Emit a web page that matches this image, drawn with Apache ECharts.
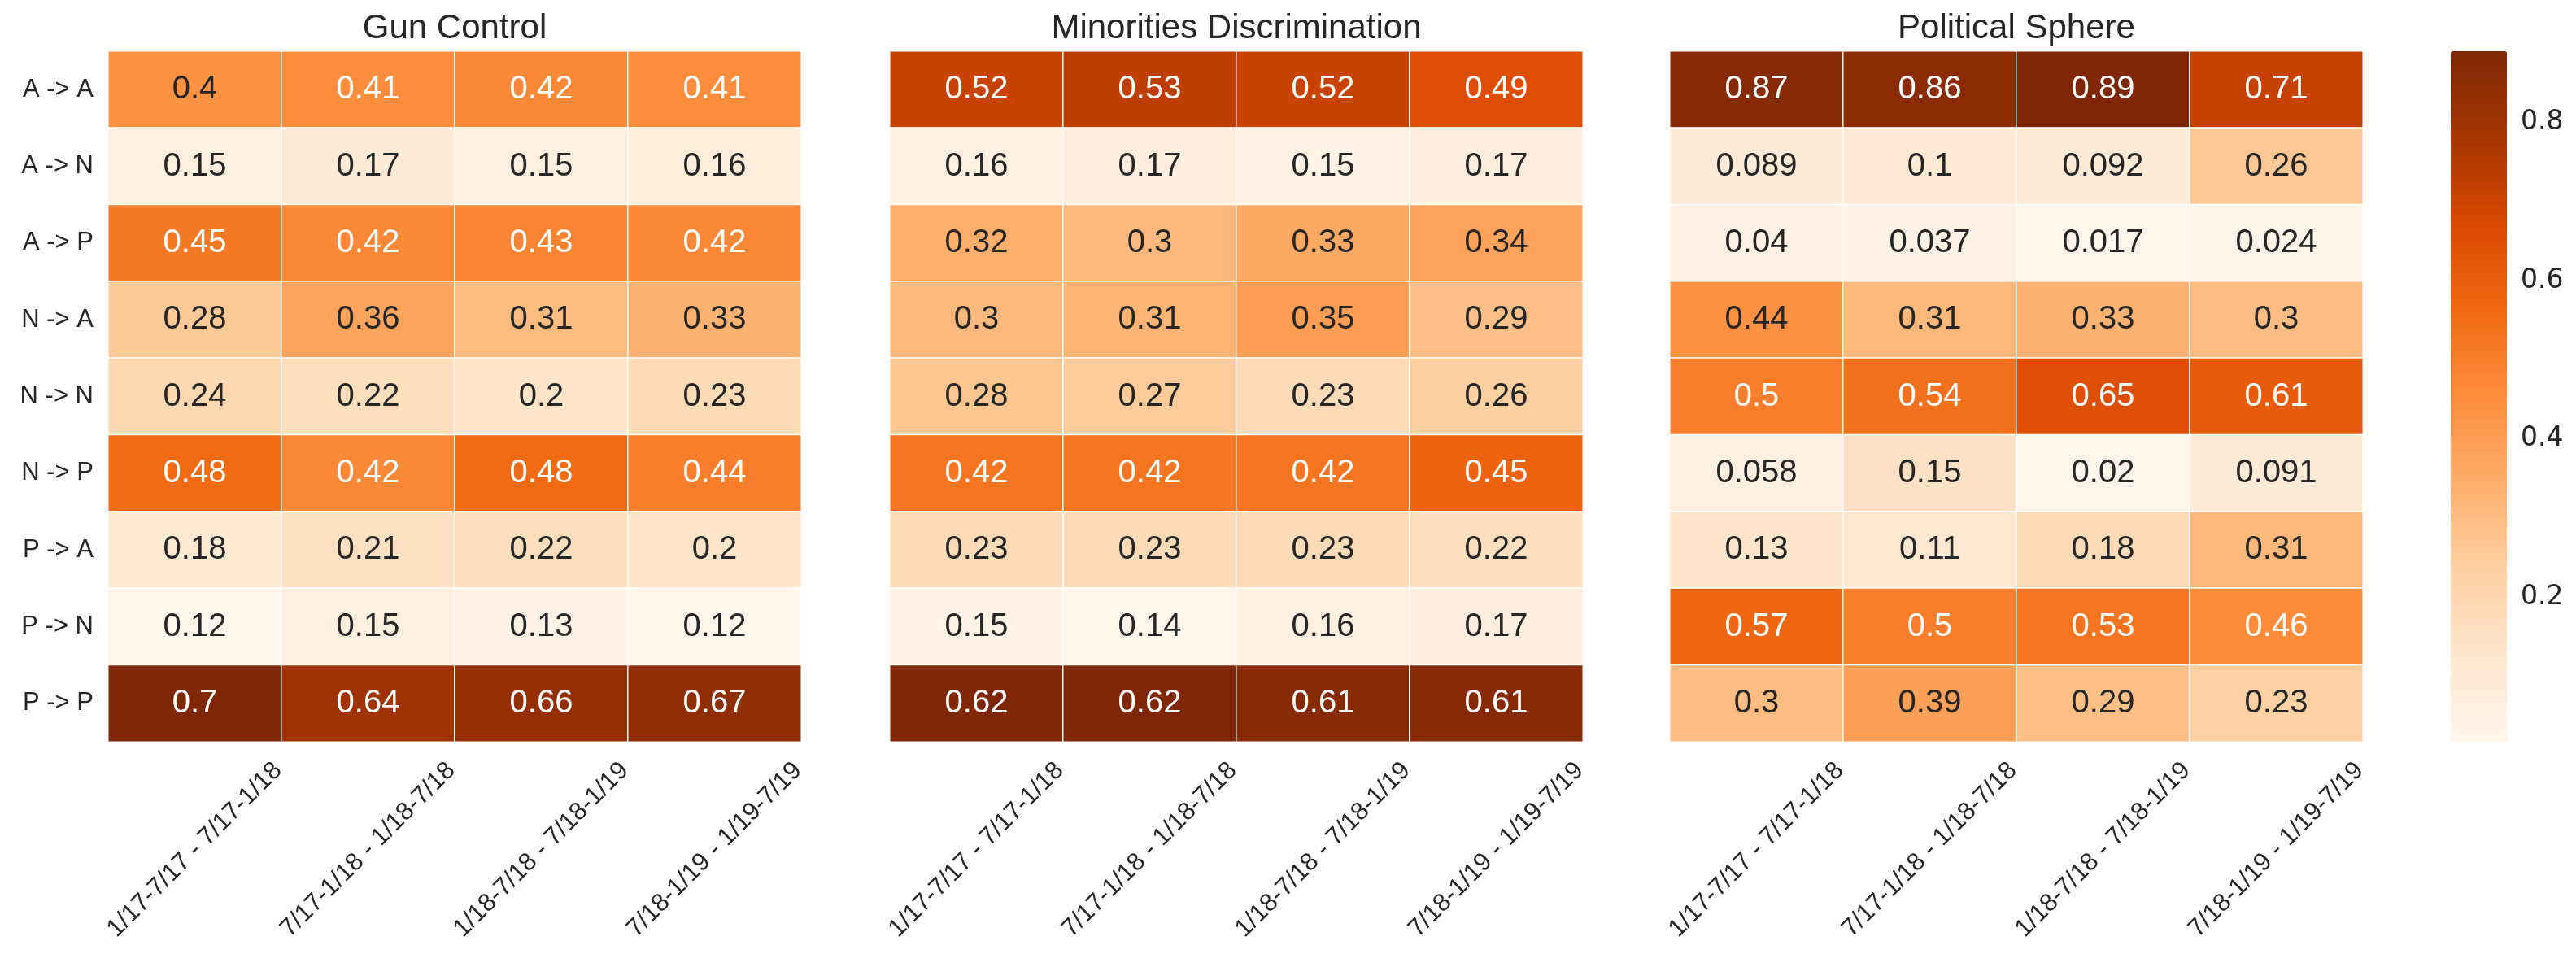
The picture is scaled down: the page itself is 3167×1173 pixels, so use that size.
<!DOCTYPE html>
<html>
<head>
<meta charset="utf-8">
<script src="https://cdn.jsdelivr.net/npm/echarts@6/dist/echarts.min.js"></script>
<style>
  html, body { margin: 0; padding: 0; background: #ffffff; }
  #chart { width: 3167px; height: 1173px; }
</style>
</head>
<body>
<div id="chart"></div>
<script>
// ---- data ----
const periods = ['1/17-7/17 - 7/17-1/18', '7/17-1/18 - 1/18-7/18', '1/18-7/18 - 7/18-1/19', '7/18-1/19 - 1/19-7/19'];
const transitions = ['A -> A', 'A -> N', 'A -> P', 'N -> A', 'N -> N', 'N -> P', 'P -> A', 'P -> N', 'P -> P'];
const panelTitles = ['Gun Control', 'Minorities Discrimination', 'Political Sphere'];

// rows = transitions, columns = periods
const gunControl = [
  [0.4, 0.41, 0.42, 0.41],
  [0.15, 0.17, 0.15, 0.16],
  [0.45, 0.42, 0.43, 0.42],
  [0.28, 0.36, 0.31, 0.33],
  [0.24, 0.22, 0.2, 0.23],
  [0.48, 0.42, 0.48, 0.44],
  [0.18, 0.21, 0.22, 0.2],
  [0.12, 0.15, 0.13, 0.12],
  [0.7, 0.64, 0.66, 0.67]
];
const minoritiesDiscrimination = [
  [0.52, 0.53, 0.52, 0.49],
  [0.16, 0.17, 0.15, 0.17],
  [0.32, 0.3, 0.33, 0.34],
  [0.3, 0.31, 0.35, 0.29],
  [0.28, 0.27, 0.23, 0.26],
  [0.42, 0.42, 0.42, 0.45],
  [0.23, 0.23, 0.23, 0.22],
  [0.15, 0.14, 0.16, 0.17],
  [0.62, 0.62, 0.61, 0.61]
];
const politicalSphere = [
  [0.87, 0.86, 0.89, 0.71],
  [0.089, 0.1, 0.092, 0.26],
  [0.04, 0.037, 0.017, 0.024],
  [0.44, 0.31, 0.33, 0.3],
  [0.5, 0.54, 0.65, 0.61],
  [0.058, 0.15, 0.02, 0.091],
  [0.13, 0.11, 0.18, 0.31],
  [0.57, 0.5, 0.53, 0.46],
  [0.3, 0.39, 0.29, 0.23]
];
const colorbarTicks = [0.2, 0.4, 0.6, 0.8];

// ---- styling ----
const orangesStops = ['#fff5eb', '#fee6ce', '#fdd0a2', '#fdae6b', '#fd8d3c', '#f16913', '#d94801', '#a63603', '#7f2704'];
const TEXT = '#262626';
const FONT = '"Liberation Sans", Arial, sans-serif';
const panels = [gunControl, minoritiesDiscrimination, politicalSphere];
const gridLefts = [133, 1094, 2053];
const GRID_TOP = 63, GRID_W = 852, GRID_H = 849;

const grids = [], xAxes = [], yAxes = [], series = [], visualMaps = [], titles = [];

panels.forEach((mat, p) => {
  const flat = mat.flat();
  const vmin = Math.min(...flat), vmax = Math.max(...flat);
  grids.push({ left: gridLefts[p], top: GRID_TOP, width: GRID_W, height: GRID_H });
  xAxes.push({
    type: 'category', gridIndex: p, data: periods, position: 'bottom',
    axisLine: { show: false }, axisTick: { show: false }, splitLine: { show: false },
    axisLabel: {
      rotate: 45, align: 'center', verticalAlign: 'middle', margin: 133,
      fontSize: 31, color: TEXT, fontFamily: FONT, interval: 0
    }
  });
  yAxes.push({
    type: 'category', gridIndex: p, data: transitions, inverse: true,
    axisLine: { show: false }, axisTick: { show: false }, splitLine: { show: false },
    axisLabel: { show: p === 0, fontSize: 31, color: TEXT, fontFamily: FONT, margin: 18 }
  });
  const data = [];
  mat.forEach((row, r) => {
    row.forEach((v, c) => {
      const t = (v - vmin) / (vmax - vmin);
      data.push({
        value: [c, r, v],
        label: { color: t < 0.49 ? TEXT : '#ffffff' }
      });
    });
  });
  series.push({
    type: 'heatmap', xAxisIndex: p, yAxisIndex: p, data: data,
    itemStyle: { borderColor: '#ffffff', borderWidth: 1.5 },
    label: {
      show: true, fontSize: 40, fontFamily: FONT,
      formatter: (prm) => String(prm.value[2])
    },
    emphasis: { disabled: true }
  });
  const isBar = p === 2;
  visualMaps.push({
    type: 'continuous', seriesIndex: p, dimension: 2,
    min: vmin, max: vmax, calculable: false, hoverLink: false,
    show: isBar, orient: 'vertical', left: 3013, top: GRID_TOP,
    itemWidth: 69, itemHeight: GRID_H, padding: 0, text: null, showLabel: false,
    inRange: { color: orangesStops }
  });
  titles.push({
    text: panelTitles[p], left: gridLefts[p] + GRID_W / 2, top: 14, textAlign: 'center',
    padding: 0,
    textStyle: { fontSize: 42, fontWeight: 'normal', color: TEXT, fontFamily: FONT }
  });
});

// colorbar axis (ticks for the shown visualMap)
const pMat = politicalSphere.flat();
const cbMin = Math.min(...pMat), cbMax = Math.max(...pMat);
grids.push({ left: 3013, top: GRID_TOP, width: 69, height: GRID_H });
xAxes.push({ type: 'value', gridIndex: 3, show: false, min: 0, max: 1 });
yAxes.push({
  type: 'value', gridIndex: 3, position: 'right', min: cbMin, max: cbMax,
  splitLine: { show: false }, axisLine: { show: false },
  axisTick: { show: true, customValues: colorbarTicks, length: 12, lineStyle: { color: TEXT, width: 2 } },
  axisLabel: { customValues: colorbarTicks, fontSize: 33, color: TEXT,
    fontFamily: '"DejaVu Sans", sans-serif', margin: 17,
    formatter: (v) => String(v) }
});
series.push({ type: 'scatter', xAxisIndex: 3, yAxisIndex: 3, data: [], silent: true });

const chart = echarts.init(document.getElementById('chart'), null, { renderer: 'canvas' });
chart.setOption({
  animation: false,
  backgroundColor: '#ffffff',
  title: titles,
  grid: grids,
  xAxis: xAxes,
  yAxis: yAxes,
  visualMap: visualMaps,
  series: series
});
</script>
</body>
</html>
